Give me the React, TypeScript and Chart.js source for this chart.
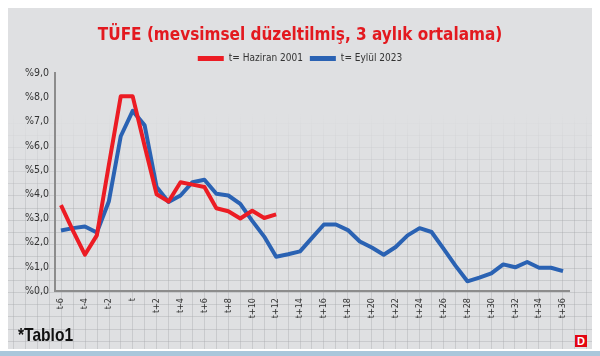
import React, { useEffect, useRef } from "react";
import { Chart, registerables } from "chart.js";

Chart.register(...registerables);

const categories: string[] = [
  "t-6", "t-5", "t-4", "t-3", "t-2", "t-1", "t",
  "t+1", "t+2", "t+3", "t+4", "t+5", "t+6", "t+7", "t+8", "t+9", "t+10",
  "t+11", "t+12", "t+13", "t+14", "t+15", "t+16", "t+17", "t+18", "t+19", "t+20",
  "t+21", "t+22", "t+23", "t+24", "t+25", "t+26", "t+27", "t+28", "t+29", "t+30",
  "t+31", "t+32", "t+33", "t+34", "t+35", "t+36",
];

const haziran2001: (number | null)[] = [
  3.55, 2.5, 1.5, 2.3, 5.2, 8.05, 8.05,
  6.0, 4.0, 3.7, 4.5, 4.4, 4.3, 3.42, 3.3, 3.0, 3.32,
  3.02, 3.17,
];

const eylul2023: number[] = [
  2.5, 2.6, 2.67, 2.42, 3.7, 6.4, 7.45,
  6.85, 4.3, 3.68, 3.95, 4.5, 4.6, 4.02, 3.95, 3.6, 2.9,
  2.25, 1.42, 1.52, 1.64, 2.2, 2.75, 2.75, 2.52, 2.05, 1.8,
  1.5, 1.82, 2.3, 2.6, 2.44, 1.75, 1.05, 0.4, 0.55, 0.73,
  1.1, 0.98, 1.2, 0.96, 0.96, 0.82,
];

const seriesNames: string[] = ["t= Haziran 2001", "t= Eylül 2023"];
const titleText = "TÜFE (mevsimsel düzeltilmiş, 3 aylık ortalama)";
const yMin = 0;
const yMax = 9;

const RED = "#ec1c24";
const BLUE = "#2a62b3";
const PANEL = "#dfe0e2";
const FONT = "'DejaVu Sans Condensed', Roboto, sans-serif";

export default function App() {
  const ref = useRef<HTMLCanvasElement | null>(null);

  useEffect(() => {
    if (!ref.current) return;
    const chart = new Chart(ref.current, {
      type: "line",
      data: {
        labels: categories,
        datasets: [
          {
            label: seriesNames[0],
            data: haziran2001,
            borderColor: RED,
            backgroundColor: RED,
            borderWidth: 4,
            pointRadius: 0,
            tension: 0,
            borderJoinStyle: "round",
          },
          {
            label: seriesNames[1],
            data: eylul2023,
            borderColor: BLUE,
            backgroundColor: BLUE,
            borderWidth: 4,
            pointRadius: 0,
            tension: 0,
            borderJoinStyle: "round",
          },
        ],
      },
      options: {
        responsive: false,
        animation: false,
        layout: { padding: 0 },
        plugins: {
          tooltip: { enabled: false },
          title: {
            display: true,
            text: titleText,
            color: "#e3191f",
            font: { family: FONT, size: 17, weight: "bold" },
            padding: { top: 17, bottom: 1 },
          },
          legend: {
            display: true,
            labels: {
              boxWidth: 26,
              boxHeight: 5,
              padding: 7,
              color: "#333",
              font: { family: FONT, size: 10 },
              generateLabels: (c: any) =>
                Chart.defaults.plugins.legend.labels
                  .generateLabels(c)
                  .map((l: any) => ({ ...l, lineWidth: 0, fillStyle: l.strokeStyle })),
            },
          },
        },
        scales: {
          x: {
            offset: true,
            grid: { display: true, color: "transparent", drawTicks: false },
            border: { display: true, color: "#8c8c8c", width: 2 },
            ticks: {
              autoSkip: false,
              minRotation: 90,
              maxRotation: 90,
              padding: 7,
              color: "#333",
              font: { family: FONT, size: 9 },
              callback: (_v: any, i: number) => (i % 2 === 0 ? categories[i] : ""),
            },
            afterFit: (s: any) => {
              s.height = 58;
            },
          },
          y: {
            min: yMin,
            max: yMax,
            grid: { display: true, color: "transparent", drawTicks: false },
            border: { display: true, color: "#8c8c8c", width: 2 },
            ticks: {
              stepSize: 1,
              padding: 6,
              color: "#333",
              font: { family: FONT, size: 10.5 },
              callback: (v: any) => "%" + Number(v).toFixed(1).replace(".", ","),
            },
            afterFit: (s: any) => {
              s.width = 47;
            },
          },
          yRightSpace: {
            position: "right",
            display: true,
            min: yMin,
            max: yMax,
            grid: { display: false },
            border: { display: false },
            ticks: { display: false },
            afterFit: (s: any) => {
              s.width = 23;
            },
          },
        },
      },
    });
    return () => chart.destroy();
  }, []);

  const gridLine = "rgba(165,166,170,0.38)";
  const background = [
    `linear-gradient(to bottom, ${PANEL} 0px, ${PANEL} 105px, rgba(223,224,226,0) 200px)`,
    `repeating-linear-gradient(to right, ${gridLine} 0px, ${gridLine} 1px, transparent 1px, transparent 11.94px)`,
    `repeating-linear-gradient(to bottom, ${gridLine} 0px, ${gridLine} 1px, transparent 1px, transparent 12.1px)`,
  ].join(", ");

  return (
    <div>
      <div
        style={{
          position: "relative",
          width: 584,
          height: 341,
          backgroundColor: PANEL,
          backgroundImage: background,
          backgroundPosition: "0 0, 5px 0, 0 6px",
        }}
      >
        <canvas ref={ref} width={584} height={341} style={{ display: "block" }} />
        <div
          style={{
            position: "absolute",
            left: 10,
            top: 318,
            fontFamily: "'Liberation Sans', sans-serif",
            fontWeight: "bold",
            fontSize: 19,
            lineHeight: "18px",
            color: "#111",
            transform: "scaleX(0.82)",
            transformOrigin: "left top",
            whiteSpace: "nowrap",
          }}
        >
          *Tablo1
        </div>
        <div
          style={{
            position: "absolute",
            left: 567,
            top: 327,
            width: 12,
            height: 12,
            background: "#e30613",
            color: "#fff",
            fontFamily: "'Liberation Sans', sans-serif",
            fontWeight: "bold",
            fontSize: 11,
            lineHeight: "12px",
            textAlign: "center",
          }}
        >
          D
        </div>
      </div>
      <div
        style={{
          position: "fixed",
          left: 0,
          top: 351,
          width: 600,
          height: 5,
          background: "#a9c7db",
        }}
      />
    </div>
  );
}
